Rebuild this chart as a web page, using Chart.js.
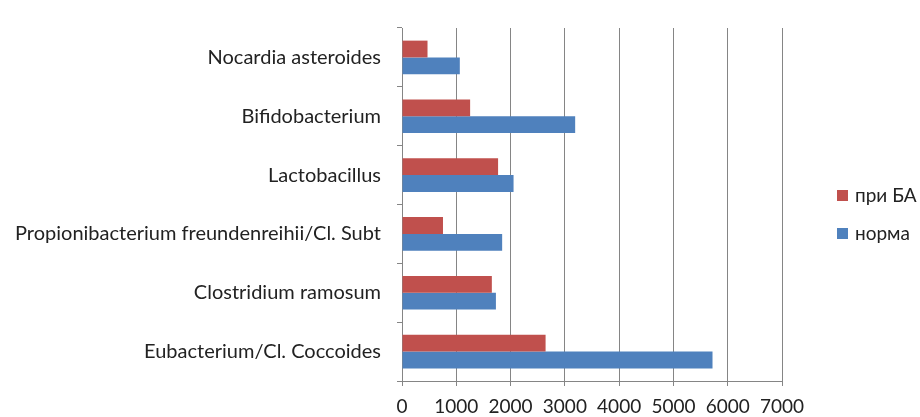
<!DOCTYPE html>
<html lang="ru">
<head>
    <meta charset="UTF-8">
    <title>Бактерии: при БА и норма</title>
    <script src="https://cdn.jsdelivr.net/npm/chart.js"></script>
    <style>
        html, body { margin: 0; padding: 0; background: #fff; }
        #wrap { width: 920px; height: 417px; position: relative; }
        #legend {
            position: absolute; left: 837px; top: 183px;
            font-family: Lato, "Open Sans", sans-serif; font-size: 19px; color: #222;
        }
        #legend div { height: 38px; line-height: 24px; white-space: nowrap; }
        #legend span.box {
            display: inline-block; width: 11px; height: 11px;
            margin-right: 7px; vertical-align: 1px;
        }
    </style>
</head>
<body>
    <div id="wrap">
        <canvas id="bacteriaChart" width="920" height="417"></canvas>
        <div id="legend"></div>
    </div>

    <script>
// Категории (сверху вниз)
const categories = [
    'Nocardia asteroides',
    'Bifidobacterium',
    'Lactobacillus',
    'Propionibacterium freundenreihii/Cl. Subt',
    'Clostridium ramosum',
    'Eubacterium/Cl. Coccoides'
];

// Значения серий
const priBA = [470, 1255, 1770, 755, 1655, 2645];
const norma = [1065, 3190, 2055, 1845, 1730, 5720];

// Подписи оси X
const xTicks = [0, 1000, 2000, 3000, 4000, 5000, 6000, 7000];

const gridColor = '#858585';
const fontFamily = 'Lato, "Open Sans", sans-serif';

var ctx = document.getElementById('bacteriaChart').getContext('2d');
var bacteriaChart = new Chart(ctx, {
    type: 'bar',
    data: {
        labels: categories,
        datasets: [
            {
                label: 'при БА',
                backgroundColor: '#c0504d',
                data: priBA
            },
            {
                label: 'норма',
                backgroundColor: '#4f81bd',
                data: norma
            }
        ]
    },
    options: {
        indexAxis: 'y',
        responsive: false,
        animation: false,
        categoryPercentage: 0.571,
        barPercentage: 1,
        layout: {
            padding: { top: 11, right: 138, bottom: 0, left: 0 }
        },
        plugins: {
            tooltip: { enabled: false },
            legend: { display: false }
        },
        scales: {
            x: {
                min: 0,
                max: 7000,
                afterBuildTicks: function (scale) {
                    scale.ticks = xTicks.map(v => ({ value: v }));
                },
                afterFit: function (scale) { scale.height = 36; },
                grid: {
                    color: gridColor,
                    lineWidth: 1,
                    drawTicks: true,
                    tickLength: 5
                },
                border: { color: gridColor },
                ticks: {
                    color: '#222',
                    padding: 9,
                    maxRotation: 0,
                    callback: function (value) { return String(value); },
                    font: { family: fontFamily, size: 19 }
                }
            },
            y: {
                afterFit: function (scale) { scale.width = 402; },
                grid: {
                    color: gridColor,
                    drawOnChartArea: false,
                    drawTicks: true,
                    tickLength: 5
                },
                border: { color: gridColor },
                ticks: {
                    color: '#222',
                    padding: 16,
                    font: { family: fontFamily, size: 20 }
                }
            }
        }
    }
});

// Легенда справа, из наборов данных
var legend = document.getElementById('legend');
bacteriaChart.data.datasets.forEach(function (ds) {
    var row = document.createElement('div');
    var box = document.createElement('span');
    box.className = 'box';
    box.style.background = ds.backgroundColor;
    row.appendChild(box);
    row.appendChild(document.createTextNode(ds.label));
    legend.appendChild(row);
});
    </script>
</body>
</html>
